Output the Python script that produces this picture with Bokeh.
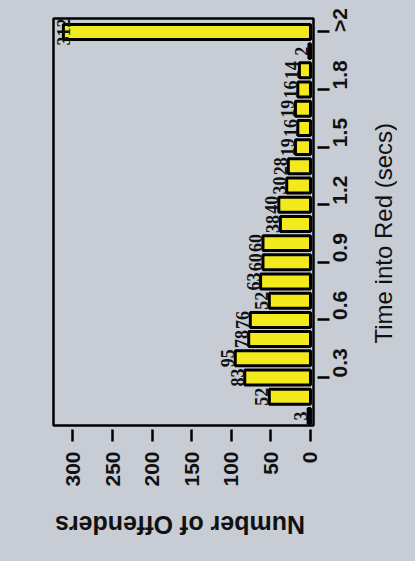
import math
from bokeh.plotting import figure
from bokeh.models import Range1d, FixedTicker, ColumnDataSource, LabelSet, Div
from bokeh.layouts import column, row
from bokeh.embed import file_html
from bokeh.resources import INLINE

bins = ["0.1", "0.2", "0.3", "0.4", "0.5", "0.6", "0.7", "0.8", "0.9", "1.0",
        "1.1", "1.2", "1.3", "1.4", "1.5", "1.6", "1.7", "1.8", "1.9", "2.0", ">2"]
counts = [3, 52, 83, 95, 78, 76, 52, 63, 60, 60,
          38, 40, 30, 28, 19, 16, 19, 16, 14, 2, 312]
tick_labels = ["0.3", "0.6", "0.9", "1.2", "1.5", "1.8", ">2"]
value_ticks = [0, 50, 100, 150, 200, 250, 300]
x_title = "Number of Offenders"
y_title = "Time into Red (secs)"

BG = "#c8ccd4"
idx = list(range(1, len(bins) + 1))
xoff = [-1] * (len(bins) - 1) + [7]
src = ColumnDataSource(dict(y=idx, v=counts, t=[str(c) for c in counts], name=bins, xo=xoff))

p = figure(width=366, height=505, output_backend="svg", toolbar_location=None,
           x_range=Range1d(324.5, -3.8), y_range=Range1d(0.5, 21.7),
           y_axis_location="right",
           min_border_left=53, min_border_right=53, min_border_top=18, min_border_bottom=80)
p.background_fill_color = BG
p.border_fill_color = BG
p.grid.visible = False
p.outline_line_color = "black"
p.outline_line_width = 2.5

p.hbar(y="y", right="v", left=0, height=0.78, source=src,
       fill_color="#f2ea1d", line_color="black", line_width=3)

labels = LabelSet(x="v", y="y", text="t", source=src, angle=math.pi / 2,
                  text_align="center", text_baseline="bottom", x_offset="xo",
                  text_font="Liberation Sans", text_font_style="bold",
                  text_font_size="18px", text_color="#111111")
p.add_layout(labels)

ya = p.yaxis[0]
ya.ticker = FixedTicker(ticks=[3, 6, 9, 12, 15, 18, 21])
ya.major_label_overrides = {3 * (i + 1): s for i, s in enumerate(tick_labels)}
ya.major_label_orientation = math.pi / 2

xa = p.xaxis[0]
xa.ticker = FixedTicker(ticks=value_ticks)
xa.major_label_orientation = math.pi / 2

for ax in (xa, ya):
    ax.axis_line_color = None
    ax.minor_tick_line_color = None
    ax.major_tick_line_color = "black"
    ax.major_tick_line_width = 2.5
    ax.major_tick_in = -4
    ax.major_tick_out = 16
    ax.major_label_standoff = 10
    ax.major_label_text_font = "Liberation Sans"
    ax.major_label_text_font_style = "bold"
    ax.major_label_text_font_size = "21px"
    ax.major_label_text_color = "#111111"

rdiv = Div(width=46, height=505, text=(
    f'<div style="box-sizing:border-box;width:46px;height:505px;padding-right:20px;'
    f'padding-bottom:49px;display:flex;align-items:center;justify-content:center;'
    f'background:{BG};">'
    f'<span style="display:inline-block;writing-mode:vertical-rl;transform:rotate(180deg);'
    f'font-family:\'Liberation Sans\';font-size:24px;line-height:26px;color:#111;'
    f'white-space:nowrap;">{y_title}</span></div>'))

bdiv = Div(width=412, height=52, text=(
    f'<div style="box-sizing:border-box;width:412px;height:52px;padding-right:62px;'
    f'padding-bottom:42px;display:flex;align-items:center;justify-content:center;'
    f'background:{BG};">'
    f'<span style="display:inline-block;transform:rotate(180deg);'
    f'font-family:\'Liberation Sans\';font-weight:bold;font-size:25px;line-height:26px;'
    f'color:#111;white-space:nowrap;">{x_title}</span></div>'))

layout = column(row(p, rdiv), bdiv, styles={"background-color": BG})

open("out.html", "w").write(file_html(layout, INLINE))
